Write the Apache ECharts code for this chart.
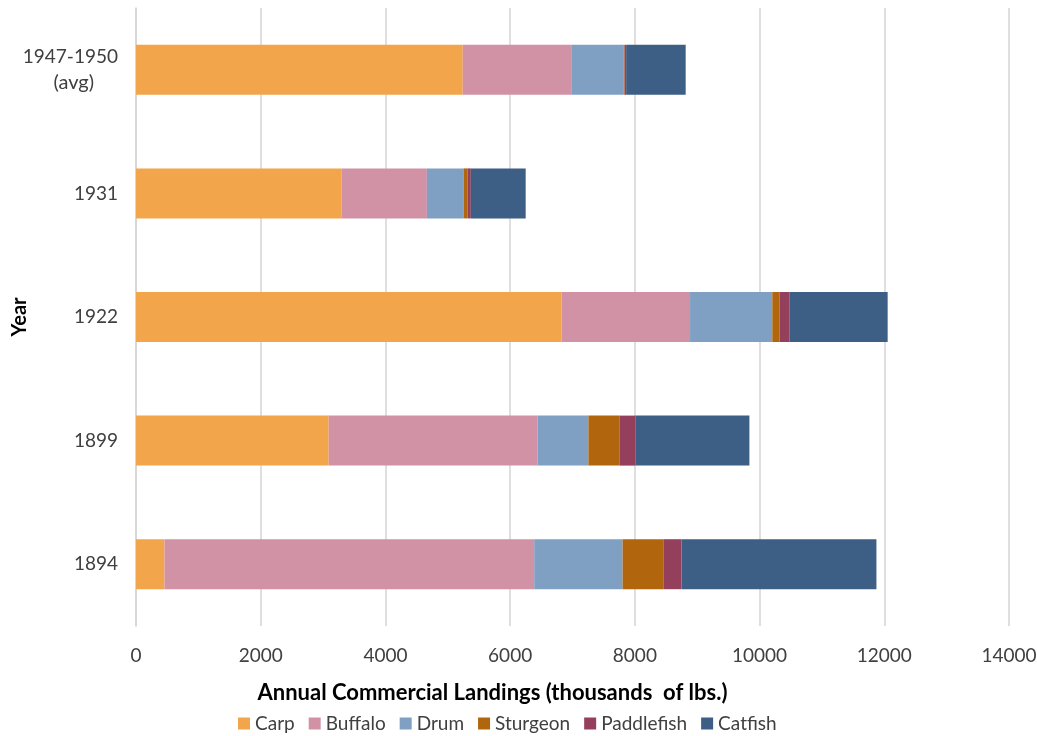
<!DOCTYPE html>
<html>
<head>
<meta charset="utf-8">
<script src="https://cdn.jsdelivr.net/npm/echarts@6/dist/echarts.min.js"></script>
<style>
  html, body { margin: 0; padding: 0; background: #fff; }
  #chart { width: 1037px; height: 736px; }
</style>
</head>
<body>
<div id="chart"></div>
<script>
// bottom to top
const years = ['1894', '1899', '1922', '1931', '1947-1950\n(avg)']
const carp = [457, 3090, 6826, 3300, 5240]
const buffalo = [5929, 3350, 2059, 1365, 1740]
const drum = [1417, 815, 1319, 587, 840]
const sturgeon = [654, 497, 118, 64, 15]
const paddlefish = [291, 261, 155, 53, 25]
const catfish = [3126, 1824, 1577, 880, 955]
const xTicks = [0, 2000, 4000, 6000, 8000, 10000, 12000, 14000]

const font = 'Lato, "Open Sans", sans-serif'
const chart = echarts.init(document.getElementById('chart'))

function bar(name, data, color) {
  return {
    name: name,
    type: 'bar',
    stack: 'total',
    barWidth: 50,
    data: data,
    itemStyle: { color: color },
    animation: false
  }
}

chart.setOption({
  textStyle: { fontFamily: font },
  grid: {
    left: 136,
    right: 28,
    top: 8,
    bottom: 110,
    containLabel: false,
    outerBoundsMode: 'none'
  },
  xAxis: {
    type: 'value',
    min: xTicks[0],
    max: xTicks[xTicks.length - 1],
    interval: 2000,
    name: 'Annual Commercial Landings (thousands  of lbs.)',
    nameLocation: 'middle',
    nameGap: 56,
    nameMoveOverlap: false,
    nameTextStyle: {
      fontFamily: font, fontSize: 22, fontWeight: 'bold', color: '#000',
      padding: [0, 160, 0, 0]
    },
    axisLine: { show: false },
    axisTick: { show: false },
    axisLabel: {
      fontFamily: font, fontSize: 19, color: '#404040', margin: 20,
      formatter: function (v) { return String(v) }
    },
    splitLine: { show: true, lineStyle: { color: '#d4d4d4', width: 1.5 } }
  },
  yAxis: {
    type: 'category',
    data: years,
    name: 'Year',
    nameLocation: 'middle',
    nameGap: 106,
    nameRotate: 90,
    nameMoveOverlap: false,
    nameTextStyle: { fontFamily: font, fontSize: 20, fontWeight: 'bold', color: '#000' },
    axisLine: { show: true, lineStyle: { color: '#d4d4d4', width: 1.5 } },
    axisTick: { show: false },
    axisLabel: {
      fontFamily: font, fontSize: 19, color: '#404040', margin: 18, align: 'right',
      lineHeight: 26, overflow: 'none',
      formatter: function (v) {
        const parts = v.split('\n')
        if (parts.length < 2) return v
        return parts[0] + '\n{sub|' + parts[1] + '}'
      },
      rich: {
        sub: { fontFamily: font, fontSize: 20, color: '#404040', lineHeight: 26, padding: [0, 24, 0, 0] }
      }
    }
  },
  legend: {
    left: 233,
    top: 709,
    itemWidth: 12,
    itemHeight: 12,
    itemGap: 14,
    icon: 'rect',
    textStyle: { fontFamily: font, fontSize: 19, color: '#404040' },
    data: ['Carp', 'Buffalo', 'Drum', 'Sturgeon', 'Paddlefish', 'Catfish']
  },
  series: [
    bar('Carp', carp, '#F2A54A'),
    bar('Buffalo', buffalo, '#D192A6'),
    bar('Drum', drum, '#7F9FC3'),
    bar('Sturgeon', sturgeon, '#B1660E'),
    bar('Paddlefish', paddlefish, '#943F5C'),
    bar('Catfish', catfish, '#3D5E85')
  ]
})
</script>
</body>
</html>
